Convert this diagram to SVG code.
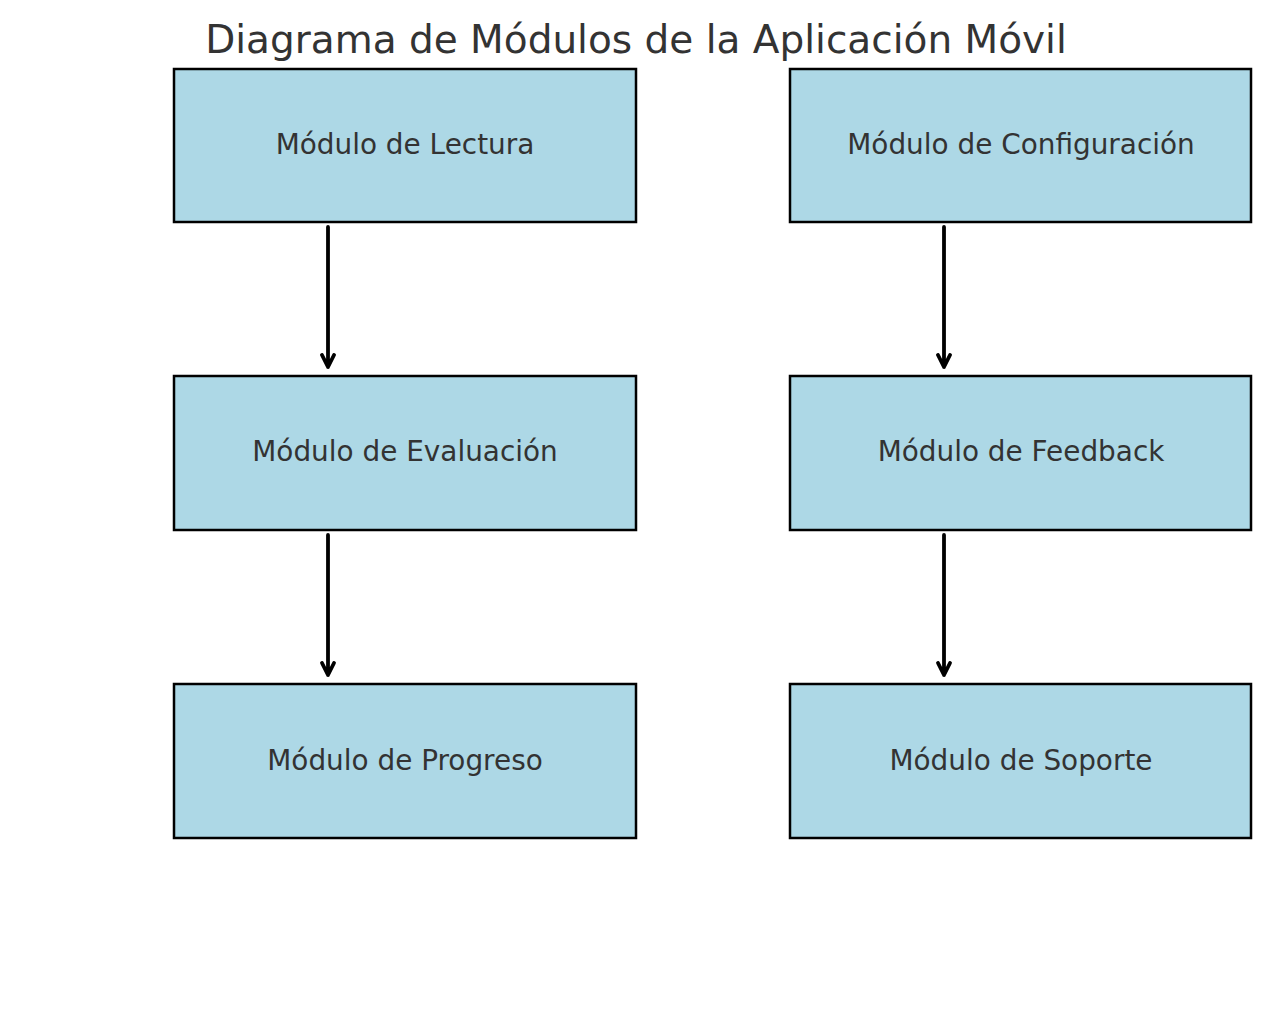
<svg xmlns="http://www.w3.org/2000/svg" width="1272" height="1012" viewBox="0 0 1272 1012">
<style>
.box{fill:#ADD8E6;stroke:#000;stroke-width:2.5}
.lbl{font-family:"DejaVu Sans",sans-serif;font-size:27.9px;fill:#333;text-anchor:middle;dominant-baseline:central}
.title{font-family:"DejaVu Sans",sans-serif;font-size:39px;fill:#333;text-anchor:middle}
.arr{stroke:#000;stroke-width:3.8;fill:none;stroke-linecap:round;stroke-linejoin:round}
</style>
<rect width="1272" height="1012" fill="#fff"/>
<text class="title" x="636" y="53">Diagrama de Módulos de la Aplicación Móvil</text>
<g id="lectura"><rect class="box" x="174" y="69" width="462" height="153"/><text class="lbl" x="405" y="144">Módulo de Lectura</text></g>
<g id="configuracion"><rect class="box" x="790" y="69" width="461" height="153"/><text class="lbl" x="1021" y="144">Módulo de Configuración</text></g>
<g id="evaluacion"><rect class="box" x="174" y="376" width="462" height="154"/><text class="lbl" x="405" y="451">Módulo de Evaluación</text></g>
<g id="feedback"><rect class="box" x="790" y="376" width="461" height="154"/><text class="lbl" x="1021" y="451">Módulo de Feedback</text></g>
<g id="progreso"><rect class="box" x="174" y="684" width="462" height="154"/><text class="lbl" x="405" y="760">Módulo de Progreso</text></g>
<g id="soporte"><rect class="box" x="790" y="684" width="461" height="154"/><text class="lbl" x="1021" y="760">Módulo de Soporte</text></g>
<g id="connectors">
<path class="arr" d="M328 227V367M322 355L328 367L334 355"/>
<path class="arr" d="M328 535V675M322 663L328 675L334 663"/>
<path class="arr" d="M944 227V367M938 355L944 367L950 355"/>
<path class="arr" d="M944 535V675M938 663L944 675L950 663"/>
</g>
</svg>
